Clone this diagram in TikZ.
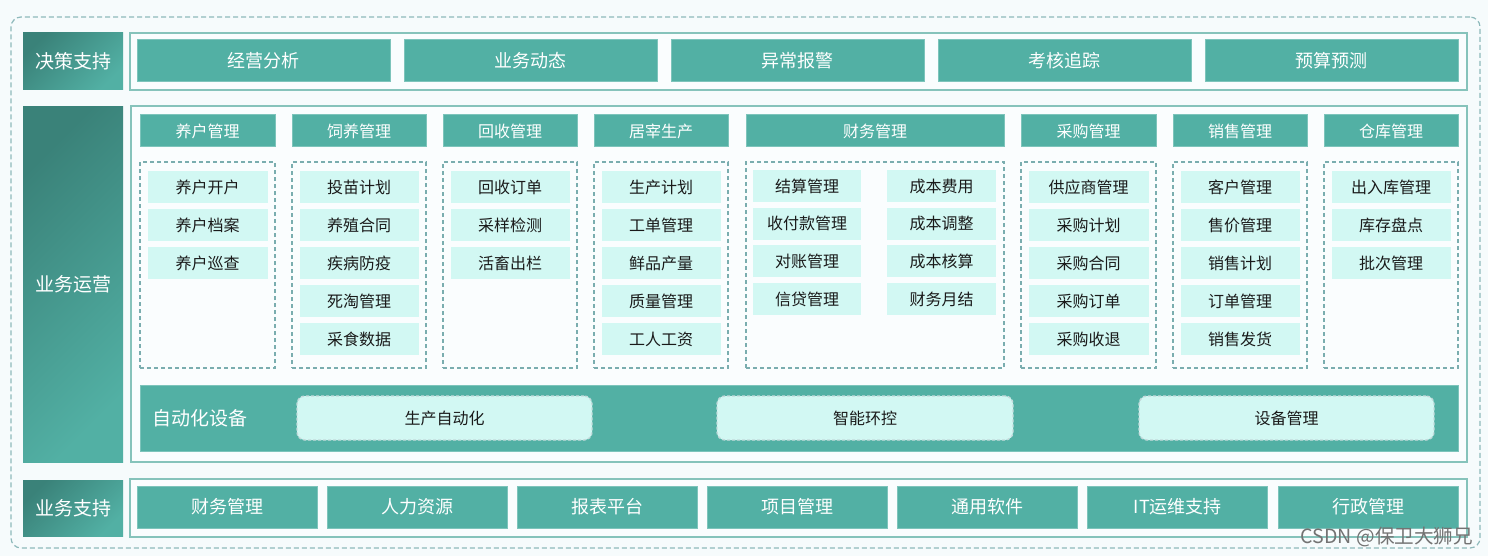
\documentclass[tikz,border=0pt]{standalone}
\usepackage{fontspec}
\setmainfont{Noto Sans CJK SC}
\definecolor{teal1}{HTML}{52B0A4}
\definecolor{tealdark}{HTML}{3A8279}
\definecolor{itemfill}{HTML}{D2F8F3}
\definecolor{dashc}{HTML}{7AADAF}
\definecolor{bordc}{HTML}{86C3BB}
\definecolor{bgc}{HTML}{F6FBFC}
\definecolor{txtdark}{HTML}{1A1A1A}
\newcommand\bx[7]{%
  \pgfmathsetmacro\bxcx{(#2+#4)/2}\pgfmathsetmacro\bxcy{(#3+#5)/2}%
  \pgfmathsetmacro\bxww{(#4-#2)*0.5}\pgfmathsetmacro\bxhh{(#5-#3)*0.5}%
  \node[#6, minimum width=\bxww pt, minimum height=\bxhh pt] (#1) at (\bxcx,\bxcy) {#7};}
\begin{document}
\begin{tikzpicture}[x=0.5pt,y=-0.5pt,
  every node/.style={inner sep=0pt, outer sep=0pt},
  tealbox/.style={fill=teal1, draw=teal1!75!white, line width=0.5pt, text=white, font=\fontsize{9}{10}\selectfont},
  hdrbox/.style={tealbox, font=\fontsize{8}{9}\selectfont},
  itembox/.style={fill=itemfill, text=txtdark, font=\fontsize{8}{9}\selectfont},
  grpbox/.style={draw=dashc, dash pattern=on 2pt off 1.5pt, line width=0.6pt},
  labelbox/.style={top color=tealdark, bottom color=teal1, shading angle=45, text=white, font=\fontsize{9.5}{10}\selectfont},
  contbox/.style={draw=bordc, line width=1pt, fill=white!50!bgc},
  bandbox/.style={fill=teal1, draw=teal1!75!white, line width=0.5pt},
  autobox/.style={fill=itemfill, draw=white!55!dashc, dash pattern=on 1.5pt off 1pt, line width=0.7pt, rounded corners=4pt, text=txtdark, font=\fontsize{8}{9}\selectfont},
  outerbox/.style={draw=dashc!85!white, dash pattern=on 2.5pt off 1.5pt, line width=0.6pt, rounded corners=5pt}
]
\useasboundingbox[fill=bgc] (0,0) rectangle (1488,556);
% outer dashed frame
\bx{outer}{11}{17}{1480}{548}{outerbox}{}
% row 1: decision support
\bx{lab1}{23}{33}{123}{90}{labelbox}{决策支持}
\bx{cont1}{130}{33}{1467}{90}{contbox}{}
\foreach \n/\xa/\t in {1/137/经营分析,2/404/业务动态,3/671/异常报警,4/938/考核追踪,5/1205/预算预测}{
  \pgfmathsetmacro\xb{\xa+253}
  \bx{top\n}{\xa}{40}{\xb}{82}{tealbox}{\t}
}
% row 2: business operations
\bx{lab2}{23}{107}{123}{462}{labelbox}{业务运营}
\bx{cont2}{131}{106}{1467}{462}{contbox}{}
\foreach \g/\xa/\xb/\ttl/\items in {
  yh/140/275/养户管理/{养户开户,养户档案,养户巡查},
  sy/292/426/饲养管理/{投苗计划,养殖合同,疾病防疫,死淘管理,采食数据},
  hs/443/577/回收管理/{回收订单,采样检测,活畜出栏},
  jz/594/728/居宰生产/{生产计划,工单管理,鲜品产量,质量管理,工人工资},
  cg/1021/1156/采购管理/{供应商管理,采购计划,采购合同,采购订单,采购收退},
  xs/1173/1307/销售管理/{客户管理,售价管理,销售计划,订单管理,销售发货},
  ck/1324/1458/仓库管理/{出入库管理,库存盘点,批次管理}}{
  \bx{h\g}{\xa}{115}{\xb}{147}{hdrbox}{\ttl}
  \bx{g\g}{\xa}{162}{\xb}{368}{grpbox}{}
  \foreach \it [count=\k] in \items {
    \pgfmathsetmacro\ia{\xa+7.5}\pgfmathsetmacro\ib{\xb-7.5}
    \pgfmathsetmacro\ya{171+38*(\k-1)}\pgfmathsetmacro\yb{\ya+32}
    \bx{\g-\k}{\ia}{\ya}{\ib}{\yb}{itembox}{\it}
  }
}
% finance group
\bx{hcw}{746}{115}{1004}{147}{hdrbox}{财务管理}
\bx{gcw}{746}{162}{1004}{368}{grpbox}{}
\foreach \it [count=\k] in {结算管理,收付款管理,对账管理,信贷管理}{
  \pgfmathsetmacro\ya{170+37.7*(\k-1)}\pgfmathsetmacro\yb{\ya+32}
  \bx{cwl-\k}{753}{\ya}{861}{\yb}{itembox}{\it}
}
\foreach \it [count=\k] in {成本费用,成本调整,成本核算,财务月结}{
  \pgfmathsetmacro\ya{170+37.7*(\k-1)}\pgfmathsetmacro\yb{\ya+32}
  \bx{cwr-\k}{887}{\ya}{996}{\yb}{itembox}{\it}
}
% automation band
\bx{band}{140}{385}{1458}{451}{bandbox}{}
\node[anchor=west, text=white, font=\fontsize{9.5}{10}\selectfont] (autolab) at (152,418) {自动化设备};
\bx{auto1}{297}{396}{592}{440}{autobox}{生产自动化}
\bx{auto2}{717}{396}{1013}{440}{autobox}{智能环控}
\bx{auto3}{1139}{396}{1434}{440}{autobox}{设备管理}
% row 3: business support
\bx{lab3}{23}{480}{123}{536}{labelbox}{业务支持}
\bx{cont3}{130}{479}{1467}{537}{contbox}{}
\foreach \n/\t [count=\k] in {1/财务管理,2/人力资源,3/报表平台,4/项目管理,5/通用软件,6/IT运维支持,7/行政管理}{
  \pgfmathsetmacro\xa{137+190.17*(\k-1)}\pgfmathsetmacro\xb{\xa+180}
  \bx{bot\n}{\xa}{486}{\xb}{528}{tealbox}{\t}
}
% watermark text
\node[text=black!55, font=\fontsize{9.8}{10}\selectfont, anchor=east] (csdn) at (1473,537) {CSDN @保卫大狮兄};
\end{tikzpicture}
\end{document}
